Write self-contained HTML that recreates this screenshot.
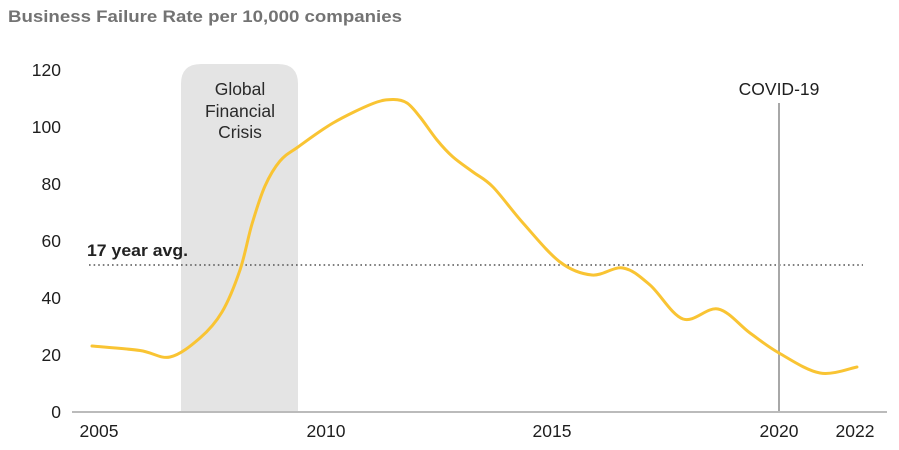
<!DOCTYPE html>
<html>
<head>
<meta charset="utf-8">
<style>
  html, body { margin: 0; padding: 0; background: #ffffff; }
  body { width: 899px; height: 450px; overflow: hidden; }
  svg { display: block; font-family: "Liberation Sans", Arial, sans-serif; }
</style>
</head>
<body>
<svg width="899" height="450" viewBox="0 0 899 450" xmlns="http://www.w3.org/2000/svg">
  <!-- Title -->
  <text x="8" y="22" font-size="17" font-weight="bold" fill="#737373" textLength="394" lengthAdjust="spacingAndGlyphs">Business Failure Rate per 10,000 companies</text>

  <!-- GFC shaded box -->
  <path d="M181,412 L181,84 Q181,64 201,64 L278,64 Q298,64 298,84 L298,412 Z" fill="#e4e4e4"/>
  <g font-size="17.5" fill="#2a2a2a" text-anchor="middle">
    <text x="240" y="95">Global</text>
    <text x="240" y="117">Financial</text>
    <text x="240" y="138">Crisis</text>
  </g>

  <!-- Y axis labels -->
  <g font-size="17.5" fill="#1e1e1e" text-anchor="end">
    <text x="61" y="76">120</text>
    <text x="61" y="133">100</text>
    <text x="61" y="190">80</text>
    <text x="61" y="247">60</text>
    <text x="61" y="304">40</text>
    <text x="61" y="361">20</text>
    <text x="61" y="418">0</text>
  </g>

  <!-- Average dotted line -->
  <line x1="89" y1="265" x2="863" y2="265" stroke="#555" stroke-width="1.6" stroke-dasharray="1.6 3"/>
  <text x="87" y="256" font-size="16.5" font-weight="bold" fill="#222" textLength="101" lengthAdjust="spacingAndGlyphs">17 year avg.</text>

  <!-- COVID line -->
  <line x1="779" y1="103" x2="779" y2="412" stroke="#a8a8a8" stroke-width="2"/>
  <text x="779" y="95" font-size="17.5" fill="#1e1e1e" text-anchor="middle">COVID-19</text>

  <!-- Data line -->
  <path id="curve" fill="none" stroke="#f9c433" stroke-width="3" stroke-linejoin="round" stroke-linecap="round"
    d="M92,346 L140,350.5 L170,357 L200,338 L222,312 L240,270 L252,224 L265,186 L280,161 L298,147 L333,123 L373,103.5 L393,99.5 L407,103 L420,117 L437,140 L453,157 L473,172 L493,187 L523,223 L560,262 L592,275 L623,268 L650,285 L683,319 L718,309 L750,333 L779,353 L820,373 L857,367"/>

  <!-- X axis -->
  <line x1="72" y1="412" x2="887" y2="412" stroke="#bbbbbb" stroke-width="2"/>
  <g font-size="17.5" fill="#1e1e1e" text-anchor="middle">
    <text x="99" y="437">2005</text>
    <text x="326" y="437">2010</text>
    <text x="552" y="437">2015</text>
    <text x="779" y="437">2020</text>
    <text x="855" y="437">2022</text>
  </g>
</svg>
<script>
(function(){
  var p=[[92,346],[140,350.5],[170,357],[200,338],[222,312],[240,270],[252,224],[265,186],[280,161],[298,147],[333,123],[373,103.5],[393,99.5],[407,103],[420,117],[437,140],[453,157],[473,172],[493,187],[523,223],[560,262],[592,275],[623,268],[650,285],[683,319],[718,309],[750,333],[779,353],[820,373],[857,367]];
  var d="M"+p[0][0]+","+p[0][1];
  for(var i=0;i<p.length-1;i++){
    var p0=p[i>0?i-1:i],p1=p[i],p2=p[i+1],p3=p[i+2<p.length?i+2:i+1];
    var c1x=p1[0]+(p2[0]-p0[0])/6,c1y=p1[1]+(p2[1]-p0[1])/6;
    var c2x=p2[0]-(p3[0]-p1[0])/6,c2y=p2[1]-(p3[1]-p1[1])/6;
    d+=" C"+c1x.toFixed(1)+","+c1y.toFixed(1)+" "+c2x.toFixed(1)+","+c2y.toFixed(1)+" "+p2[0]+","+p2[1];
  }
  document.getElementById("curve").setAttribute("d",d);
})();
</script>
</body>
</html>
